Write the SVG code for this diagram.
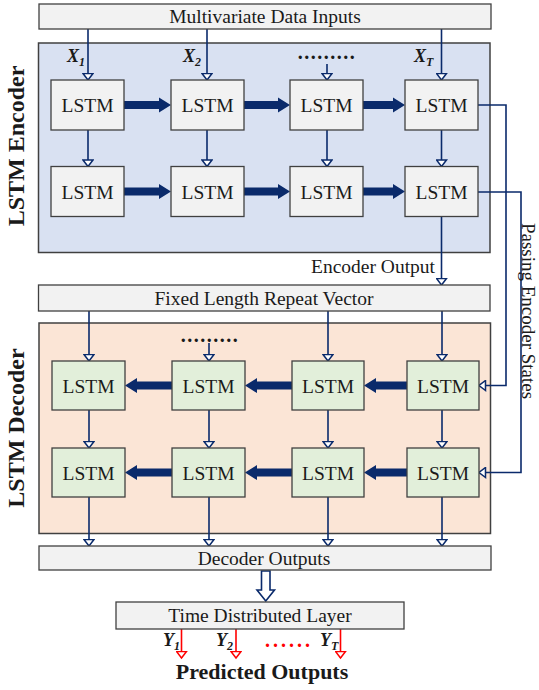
<svg xmlns="http://www.w3.org/2000/svg" width="539" height="690" viewBox="0 0 539 690">
<style>
text{font-family:"Liberation Serif","Tinos","Nimbus Roman","Times New Roman","DejaVu Serif",serif;fill:#1a1a1a}
.bar{fill:#f2f2f2;stroke:#404040;stroke-width:1.3}
.enc{fill:#f2f2f2;stroke:#404040;stroke-width:1.3}
.dec{fill:#e2efda;stroke:#404040;stroke-width:1.3}
.ln{fill:none;stroke:#0a2a6b;stroke-width:1.6}
.rd{fill:none;stroke:#ff0000;stroke-width:1.6}
.thick{fill:#0a2a6b}
.lab{font-size:19.5px;text-anchor:middle}
.xl{font-size:18px;font-style:italic;font-weight:bold}
.title{font-size:24px;font-weight:bold;text-anchor:middle}
</style>
<defs>
<marker id="oa" markerUnits="userSpaceOnUse" markerWidth="9" markerHeight="12" refX="7.5" refY="6" orient="auto" viewBox="0 0 9 12">
<path d="M1,1 L7.5,6 L1,11 Z" fill="#fff" stroke="#0a2a6b" stroke-width="1.5"/>
</marker>
<marker id="ra" markerUnits="userSpaceOnUse" markerWidth="9" markerHeight="12" refX="7.5" refY="6" orient="auto" viewBox="0 0 9 12">
<path d="M1,1 L7.5,6 L1,11 Z" fill="#fff" stroke="#ff0000" stroke-width="1.5"/>
</marker>
</defs>
<rect width="539" height="690" fill="#fff"/>

<g id="panels">
<rect id="encoder-panel" x="38.5" y="43" width="451.5" height="209.5" fill="#d9e1f2" stroke="#404040" stroke-width="1.5"/>
<rect id="decoder-panel" x="39" y="323" width="451.5" height="210.5" fill="#fbe5d6" stroke="#404040" stroke-width="1.5"/>
</g>

<g id="connectors">
<path class="ln" d="M88,29 V80" marker-end="url(#oa)"/>
<path class="ln" d="M207,29 V80" marker-end="url(#oa)"/>
<path class="ln" d="M327,64 V80" marker-end="url(#oa)"/>
<path class="ln" d="M441.5,29 V80" marker-end="url(#oa)"/>
<path class="ln" d="M88,130 V166.5" marker-end="url(#oa)"/>
<path class="ln" d="M207,130 V166.5" marker-end="url(#oa)"/>
<path class="ln" d="M327,130 V166.5" marker-end="url(#oa)"/>
<path class="ln" d="M441.5,130 V166.5" marker-end="url(#oa)"/>
<path class="ln" d="M441.5,216.5 V285" marker-end="url(#oa)"/>
<polygon class="thick" points="124,101 159,101 159,97.5 171,105 159,112.5 159,109 124,109"/>
<polygon class="thick" points="244,101 278,101 278,97.5 290,105 278,112.5 278,109 244,109"/>
<polygon class="thick" points="363,101 393,101 393,97.5 405,105 393,112.5 393,109 363,109"/>
<polygon class="thick" points="124,187.5 159,187.5 159,184 171,191.5 159,199 159,195.5 124,195.5"/>
<polygon class="thick" points="244,187.5 278,187.5 278,184 290,191.5 278,199 278,195.5 244,195.5"/>
<polygon class="thick" points="363,187.5 393,187.5 393,184 405,191.5 393,199 393,195.5 363,195.5"/>
<path class="ln" d="M478,105 H506 V385.5 H479" marker-end="url(#oa)"/>
<path class="ln" d="M478,192 H521 V472.5 H479" marker-end="url(#oa)"/>
<path class="ln" d="M89,311 V361" marker-end="url(#oa)"/>
<path class="ln" d="M209,343 V361" marker-end="url(#oa)"/>
<path class="ln" d="M328,311 V361" marker-end="url(#oa)"/>
<path class="ln" d="M442,311 V361" marker-end="url(#oa)"/>
<path class="ln" d="M89,410 V448" marker-end="url(#oa)"/>
<path class="ln" d="M209,410 V448" marker-end="url(#oa)"/>
<path class="ln" d="M328,410 V448" marker-end="url(#oa)"/>
<path class="ln" d="M442,410 V448" marker-end="url(#oa)"/>
<path class="ln" d="M89,497 V546" marker-end="url(#oa)"/>
<path class="ln" d="M209,497 V546" marker-end="url(#oa)"/>
<path class="ln" d="M328,497 V546" marker-end="url(#oa)"/>
<path class="ln" d="M442,497 V546" marker-end="url(#oa)"/>
<polygon class="thick" points="172,381.5 137,381.5 137,378 125,385.5 137,393 137,389.5 172,389.5"/>
<polygon class="thick" points="292,381.5 257,381.5 257,378 245,385.5 257,393 257,389.5 292,389.5"/>
<polygon class="thick" points="407,381.5 376,381.5 376,378 364,385.5 376,393 376,389.5 407,389.5"/>
<polygon class="thick" points="172,468.5 137,468.5 137,465 125,472.5 137,480 137,476.5 172,476.5"/>
<polygon class="thick" points="292,468.5 257,468.5 257,465 245,472.5 257,480 257,476.5 292,476.5"/>
<polygon class="thick" points="407,468.5 376,468.5 376,465 364,472.5 376,480 376,476.5 407,476.5"/>
<polygon points="261.5,571 270,571 270,590 274.5,590 265.75,601 257,590 261.5,590" fill="#fff" stroke="#0a2a6b" stroke-width="1.6"/>
<path class="rd" d="M181.5,629 V658" marker-end="url(#ra)"/>
<path class="rd" d="M236,629 V658" marker-end="url(#ra)"/>
<path class="rd" d="M340.5,629 V658" marker-end="url(#ra)"/>
</g>

<g id="input-bar">
<rect class="bar" x="39" y="4" width="452" height="25"/>
<text class="lab" x="265" y="23">Multivariate Data Inputs</text>
</g>

<g id="enc-labels">
<text class="xl" x="67" y="62">X<tspan font-size="12" dy="4">1</tspan></text>
<text class="xl" x="183" y="62">X<tspan font-size="12" dy="4">2</tspan></text>
<text x="327" y="59" font-size="20" font-weight="bold" text-anchor="middle" letter-spacing="1.5">.........</text>
<text class="xl" x="414" y="62">X<tspan font-size="12" dy="4">T</tspan></text>
</g>

<g id="enc-r1c1"><rect class="enc" x="51" y="80" width="73" height="50"/><text class="lab" x="87.5" y="112">LSTM</text></g>
<g id="enc-r1c2"><rect class="enc" x="171" y="80" width="73" height="50"/><text class="lab" x="207.5" y="112">LSTM</text></g>
<g id="enc-r1c3"><rect class="enc" x="290" y="80" width="73" height="50"/><text class="lab" x="326.5" y="112">LSTM</text></g>
<g id="enc-r1c4"><rect class="enc" x="405" y="80" width="73" height="50"/><text class="lab" x="441.5" y="112">LSTM</text></g>
<g id="enc-r2c1"><rect class="enc" x="51" y="166.5" width="73" height="50"/><text class="lab" x="87.5" y="198.5">LSTM</text></g>
<g id="enc-r2c2"><rect class="enc" x="171" y="166.5" width="73" height="50"/><text class="lab" x="207.5" y="198.5">LSTM</text></g>
<g id="enc-r2c3"><rect class="enc" x="290" y="166.5" width="73" height="50"/><text class="lab" x="326.5" y="198.5">LSTM</text></g>
<g id="enc-r2c4"><rect class="enc" x="405" y="166.5" width="73" height="50"/><text class="lab" x="441.5" y="198.5">LSTM</text></g>

<g id="encoder-title"><text class="title" transform="translate(24,146) rotate(-90)">LSTM Encoder</text></g>
<g id="encoder-output-label"><text x="435" y="273" font-size="19.5" text-anchor="end">Encoder Output</text></g>
<g id="passing-label"><text transform="translate(522,311) rotate(90)" font-size="19" text-anchor="middle">Passing Encoder States</text></g>

<g id="repeat-vector">
<rect class="bar" x="38.5" y="285" width="451.5" height="26"/>
<text class="lab" x="264" y="304.5">Fixed Length Repeat Vector</text>
</g>

<g id="dec-dots"><text x="210" y="342" font-size="20" font-weight="bold" text-anchor="middle" letter-spacing="1.5">.........</text></g>

<g id="dec-r1c1"><rect class="dec" x="52" y="361" width="73" height="49"/><text class="lab" x="88.5" y="392.5">LSTM</text></g>
<g id="dec-r1c2"><rect class="dec" x="172" y="361" width="73" height="49"/><text class="lab" x="208.5" y="392.5">LSTM</text></g>
<g id="dec-r1c3"><rect class="dec" x="292" y="361" width="72" height="49"/><text class="lab" x="328" y="392.5">LSTM</text></g>
<g id="dec-r1c4"><rect class="dec" x="407" y="361" width="72" height="49"/><text class="lab" x="443" y="392.5">LSTM</text></g>
<g id="dec-r2c1"><rect class="dec" x="52" y="448" width="73" height="49"/><text class="lab" x="88.5" y="479.5">LSTM</text></g>
<g id="dec-r2c2"><rect class="dec" x="172" y="448" width="73" height="49"/><text class="lab" x="208.5" y="479.5">LSTM</text></g>
<g id="dec-r2c3"><rect class="dec" x="292" y="448" width="72" height="49"/><text class="lab" x="328" y="479.5">LSTM</text></g>
<g id="dec-r2c4"><rect class="dec" x="407" y="448" width="72" height="49"/><text class="lab" x="443" y="479.5">LSTM</text></g>

<g id="decoder-title"><text class="title" transform="translate(24,428) rotate(-90)">LSTM Decoder</text></g>

<g id="decoder-outputs">
<rect class="bar" x="39" y="546" width="452" height="24"/>
<text class="lab" x="264" y="564.5">Decoder Outputs</text>
</g>

<g id="time-distributed">
<rect class="bar" x="116" y="602" width="288" height="27"/>
<text class="lab" x="260" y="622">Time Distributed Layer</text>
</g>

<g id="out-labels">
<text class="xl" x="163" y="646">Y<tspan font-size="12" dy="4">1</tspan></text>
<text class="xl" x="216" y="646">Y<tspan font-size="12" dy="4">2</tspan></text>
<text x="289" y="647" font-size="20" font-weight="bold" style="fill:#ff0000" text-anchor="middle" letter-spacing="3">......</text>
<text class="xl" x="320" y="646">Y<tspan font-size="12" dy="4">T</tspan></text>
</g>

<g id="predicted"><text x="262" y="679" font-size="22" font-weight="bold" text-anchor="middle">Predicted Outputs</text></g>
</svg>
